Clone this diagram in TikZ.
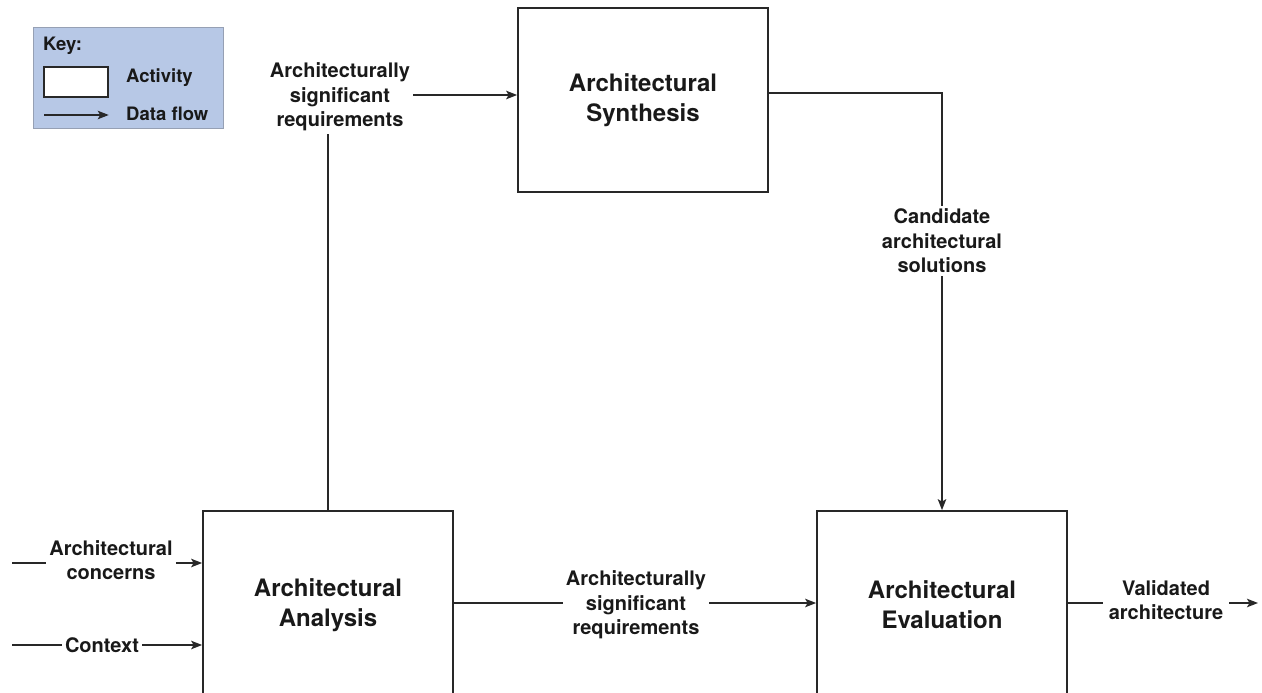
\documentclass[tikz,border=0pt]{standalone}
\usepackage{fontspec}
\setmainfont{TeX Gyre Heros}
\usetikzlibrary{arrows.meta}
\definecolor{keyblue}{RGB}{183,200,230}
\definecolor{keyedge}{RGB}{150,160,180}
\definecolor{ink}{RGB}{40,40,40}
\definecolor{txt}{RGB}{25,25,25}
\begin{document}
\begin{tikzpicture}[x=1pt,y=-1pt,
  activity/.style={draw=ink,line width=1.7pt,minimum width=250pt,minimum height=184pt,inner sep=0pt,align=center,text=txt,font=\fontsize{24}{30}\selectfont\bfseries},
  flowlabel/.style={align=center,inner sep=3pt,text=txt,font=\fontsize{20}{24.5}\selectfont\bfseries},
  flow/.style={draw=ink,line width=1.5pt},
  arrow/.style={flow,-{Stealth[length=11pt,width=8.5pt,inset=2.5pt]}},
  keytext/.style={anchor=west,inner sep=0pt,text=txt,font=\fontsize{18.5}{22}\selectfont\bfseries}]
\useasboundingbox (0,0) rectangle (1262,693);
\clip (0,0) rectangle (1262,693);

% key
\node[draw=keyedge,fill=keyblue,line width=0.8pt,minimum width=190pt,minimum height=101pt,inner sep=0pt] (key) at (128,78) {};
\node[keytext] (keyt) at (43,46) {Key:};
\node[draw=ink,fill=white,line width=1.5pt,minimum width=64pt,minimum height=30pt,inner sep=0pt] (keybox) at (76,82) {};
\node[keytext] (keyact) at (126,78) {Activity};
\node[keytext] (keyflow) at (126,114) {Data flow};
\coordinate (keyas) at (44,115);
\draw[arrow] (keyas) -- (keyas -| keybox.east);

% activities
\node[activity] (synth) at (643,100) {Architectural\\Synthesis};
\node[activity,minimum height=188pt] (anal) at (328,605) {Architectural\\Analysis};
\node[activity,minimum height=188pt] (eval) at (942,605) {Architectural\\Evaluation};

% labels
\node[flowlabel] (asr1) at (340,97) {Architecturally\\significant\\requirements};
\node[flowlabel] (cand) at (942,241) {Candidate\\architectural\\solutions};
\node[flowlabel] (asr2) at (636,605) {Architecturally\\significant\\requirements};
\node[flowlabel] (conc) at (111,560) {Architectural\\concerns};
\node[flowlabel] (ctx) at (102,645) {Context};
\node[flowlabel,inner xsep=6pt] (valid) at (1166,600) {Validated\\architecture};

% analysis -> synthesis
\draw[flow] (anal.north) -- (anal.north |- asr1.south);
\draw[arrow] (asr1.east |- 0,95) -- (synth.west |- 0,95);

% synthesis -> evaluation
\draw[flow] ([yshift=7pt]synth.east) -| (cand.north);
\draw[arrow] (cand.south) -- (eval.north);

% analysis -> evaluation
\draw[flow] (anal.east |- 0,603) -- (asr2.west |- 0,603);
\draw[arrow] (asr2.east |- 0,603) -- (eval.west |- 0,603);

% inputs
\coordinate (in1) at (12,563);
\coordinate (in2) at (12,645);
\draw[flow] (in1) -- (conc.west |- in1);
\draw[arrow] (conc.east |- in1) -- (anal.west |- in1);
\draw[flow] (in2) -- (ctx.west |- in2);
\draw[arrow] (ctx.east |- in2) -- (anal.west |- in2);

% output
\coordinate (out) at (1258,603);
\draw[flow] (eval.east |- out) -- (valid.west |- out);
\draw[arrow] (valid.east |- out) -- (out);
\end{tikzpicture}
\end{document}
